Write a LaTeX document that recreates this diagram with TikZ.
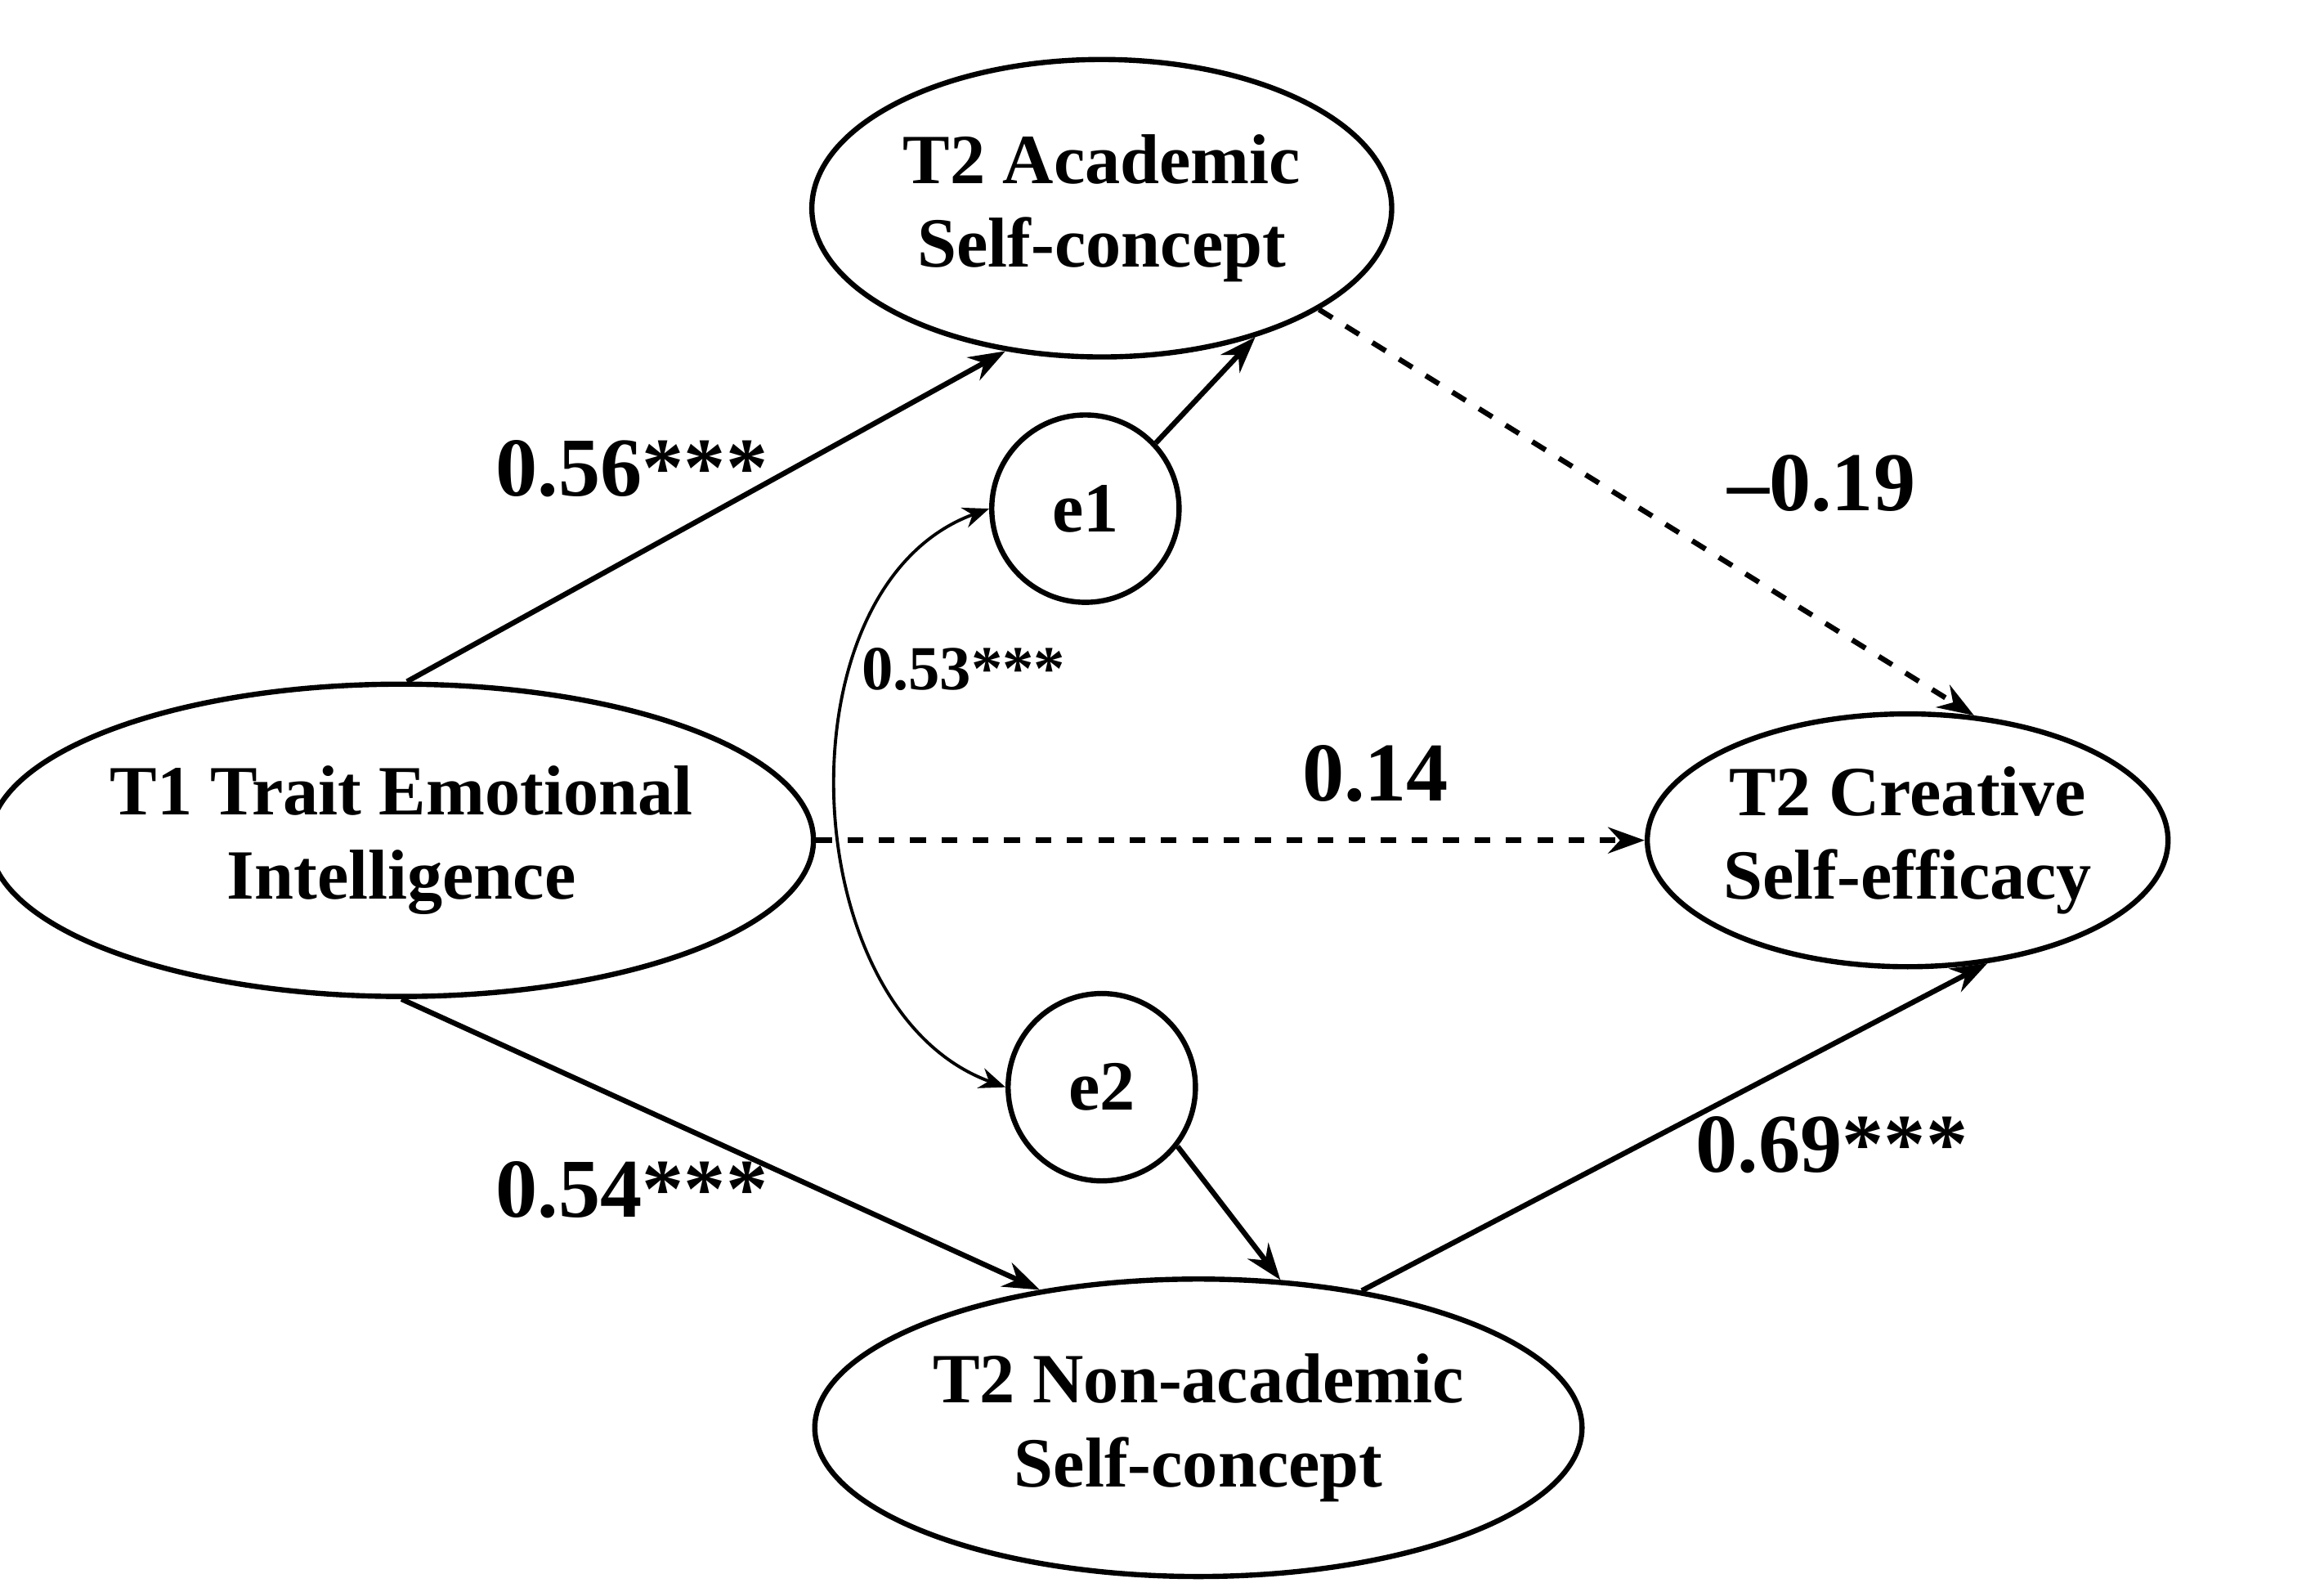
\documentclass[tikz,border=0pt]{standalone}
\usepackage{fontspec}
\setmainfont{Liberation Serif}
\usetikzlibrary{shapes.geometric,arrows.meta}
\tikzset{
  latent/.style={draw, ellipse, line width=1pt, inner sep=0pt, align=center, font=\fontsize{13.5}{16}\selectfont\bfseries},
  err/.style={draw, circle, line width=1pt, inner sep=0pt, minimum size=1.26cm, font=\fontsize{13.5}{16}\selectfont\bfseries},
  path/.style={line width=1pt, -{Stealth[length=7pt,width=5pt]}},
  coef/.style={font=\fontsize{16}{18}\selectfont\bfseries}
}
\begin{document}
\begin{tikzpicture}
\useasboundingbox (0,0) rectangle (15.63,10.70);
\node[latent, minimum width=3.9cm, minimum height=2.0cm] (asc) at (7.41,9.30) {T2 Academic\\Self-concept};
\node[latent, minimum width=5.16cm, minimum height=2.1cm] (tei) at (2.70,5.05) {T1 Trait Emotional\\Intelligence};
\node[latent, minimum width=3.34cm, minimum height=1.7cm] (cse) at (12.83,5.05) {T2 Creative\\Self-efficacy};
\node[latent, minimum width=5.16cm, minimum height=2.0cm] (nsc) at (8.06,1.10) {T2 Non-academic\\Self-concept};
\node[err] (e1) at (7.30,7.28) {e1};
\node[err] (e2) at (7.41,3.39) {e2};

\draw[path] (tei.88) -- (asc.236);
\draw[path] (e1.43) -- (asc.320);
\draw[path, dashed] (asc.335) -- (cse.62);
\draw[path, dashed] (tei.east) -- (cse.west);
\draw[path] (tei.south) -- (nsc.139);
\draw[path] (e2.322) -- (nsc.61);
\draw[path] (nsc.40) -- (cse.303);
\draw[line width=0.6pt, {Stealth[length=5pt,width=4pt]}-{Stealth[length=5pt,width=4pt]}] (e1.west) to[out=200, in=160] (e2.west);

\node[coef] (c1) at (4.25,7.55) {0.56***};
\node[coef] (c2) at (12.25,7.45) {\textendash0.19};
\node[font=\fontsize{12}{14}\selectfont\bfseries] (c3) at (6.48,6.20) {0.53***};
\node[coef] (c4) at (9.25,5.50) {0.14};
\node[coef] (c5) at (4.25,2.70) {0.54***};
\node[coef] (c6) at (12.32,3.00) {0.69***};
\end{tikzpicture}
\end{document}
